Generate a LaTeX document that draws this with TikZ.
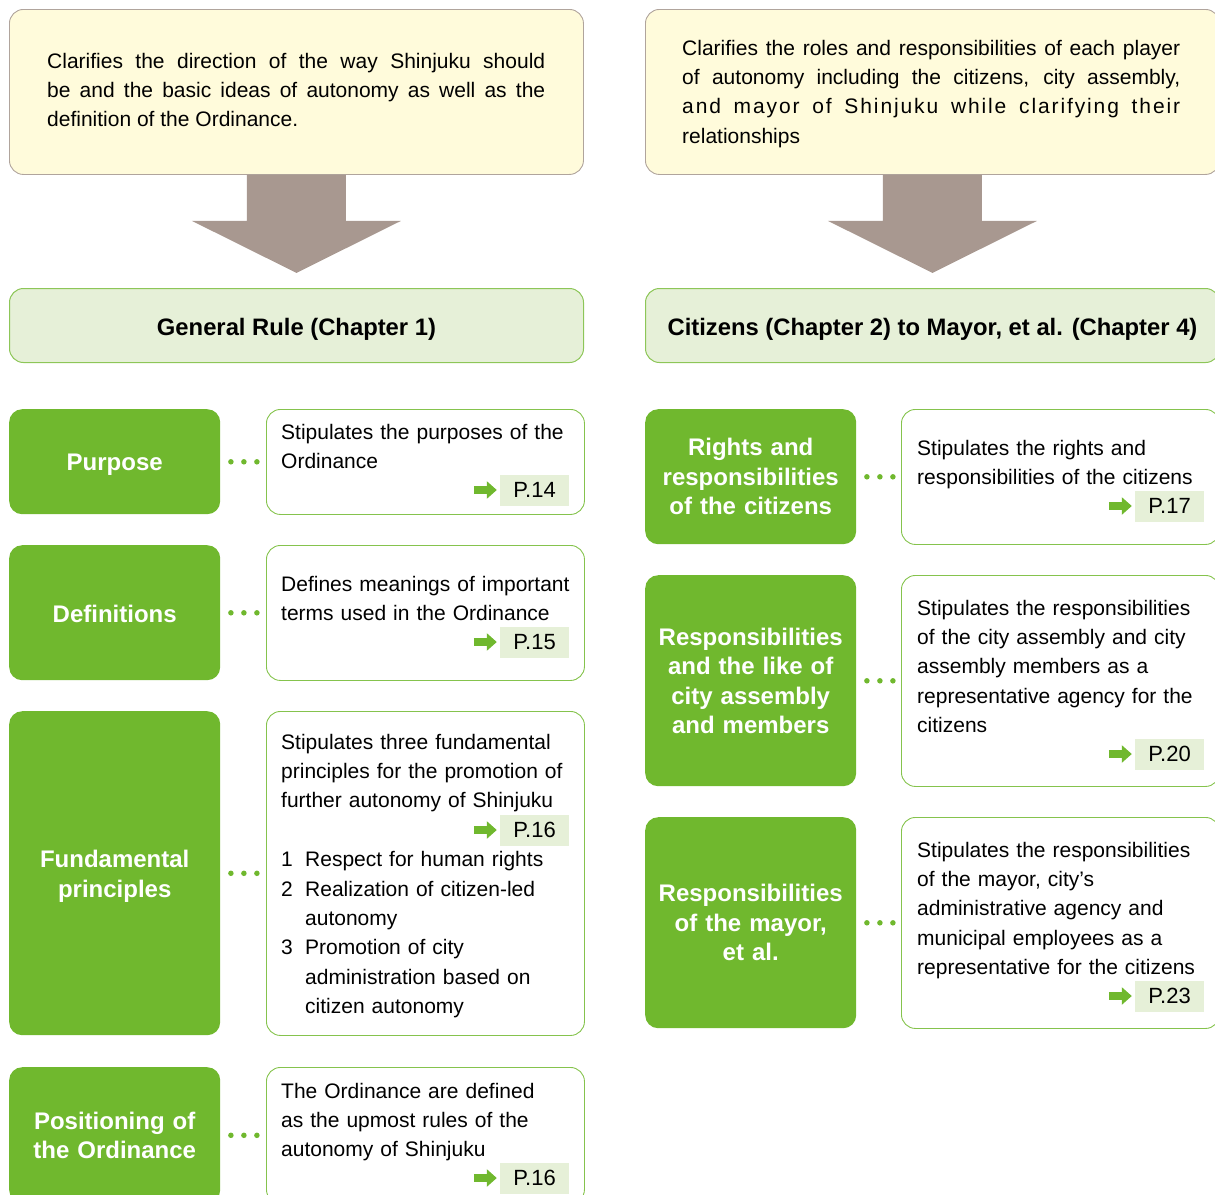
\documentclass[tikz,border=0pt]{standalone}
\usepackage{fontspec}
\setmainfont{Liberation Sans}
\usetikzlibrary{arrows.meta}
\definecolor{leaf}{RGB}{112,184,46}
\definecolor{leafpale}{RGB}{230,240,216}
\definecolor{cream}{RGB}{255,251,219}
\definecolor{creamline}{RGB}{176,164,156}
\definecolor{taupe}{RGB}{168,152,144}

\begin{document}
\begin{tikzpicture}[x=1pt,y=-1pt,
	introbox/.style={draw=creamline, fill=cream, line width=0.9pt, rounded corners=14pt, anchor=north west, minimum width=574, minimum height=165},
	introtext/.style={anchor=base west, inner sep=0, text width=498, align=justify, font=\fontsize{21}{29.4}\selectfont},
	headbox/.style={draw=leaf!80, fill=leafpale, line width=1pt, rounded corners=14pt, anchor=north west, minimum width=574, minimum height=74, text height=19pt, text depth=0pt, font=\fontsize{23.8}{29.5}\selectfont\bfseries},
	tagbox/.style={fill=leaf, text=white, rounded corners=13pt, anchor=north west, minimum width=211, text width=200, align=center, inner sep=0, font=\fontsize{24}{29.5}\selectfont\bfseries},
	descbox/.style={draw=leaf!85, line width=0.9pt, rounded corners=14pt, anchor=north west, minimum width=318},
	desctext/.style={anchor=base west, inner sep=0, text width=300, align=left, font=\fontsize{21}{29.4}\selectfont},
	pagebox/.style={fill=leafpale, minimum width=69, minimum height=31, inner sep=0, font=\fontsize{22}{24}\selectfont},
	pagearrow/.style={leaf, line width=7.5pt, -{Triangle[length=10pt,width=17pt]}},
	dotlink/.style={leaf, line width=5.5pt, line cap=round, dash pattern=on 0pt off 13pt, shorten <=10.5pt, shorten >=8pt}]
	\useasboundingbox (0,0) rectangle (1215,1194);
	\node[introbox] (introL) at (9,9) {};
	\node[introbox] (introR) at (645,9) {};
	\node[introtext] (introLtext) at (47,68) {Clarifies the direction of the way Shinjuku should\linebreak be and the basic ideas of autonomy as well as the\linebreak definition of the Ordinance.};
	\node[introtext] (introRtext) at (682,55) {Clarifies the roles and responsibilities of each player\linebreak of autonomy including the citizens, city assembly,\linebreak {\addfontfeatures{LetterSpace=9}and mayor of Shinjuku while clarifying their}\linebreak relationships};
	\node[headbox] (headL) at (9,288) {General Rule (Chapter 1)};
	\node[headbox] (headR) at (645,288) {Citizens (Chapter 2) to Mayor, et al. (Chapter 4)};
	\fill[taupe] ([xshift=-49.5pt]introL.south) -- ++(0,46) -- ++(-55,0) -- ++(104.5,52) -- ++(104.5,-52) -- ++(-55,0) -- ++(0,-46) -- cycle;
	\fill[taupe] ([xshift=-49.5pt]introR.south) -- ++(0,46) -- ++(-55,0) -- ++(104.5,52) -- ++(104.5,-52) -- ++(-55,0) -- ++(0,-46) -- cycle;
	\node[tagbox, minimum height=105] (purpose) at (9,409) {\rule{0pt}{22pt}Purpose};
	\node[tagbox, minimum height=135] (defs) at (9,545) {\rule{0pt}{20pt}Definitions};
	\node[tagbox, minimum height=324] (principles) at (9,711) {\rule{0pt}{24pt}Fundamental\\principles};
	\node[tagbox, minimum height=136] (position) at (9,1067) {Positioning of\\the Ordinance};
	\node[descbox, minimum height=105] (purposeD) at (266,409) {};
	\node[descbox, minimum height=135] (defsD) at (266,545) {};
	\node[descbox, minimum height=324] (principlesD) at (266,711) {};
	\node[descbox, minimum height=136] (positionD) at (266,1067) {};
	\node[tagbox, minimum height=135] (rights) at (645,409) {Rights and\\responsibilities\\of the citizens};
	\node[tagbox, minimum height=211] (assembly) at (645,575) {Responsibilities\\and the like of\\city assembly\\and members};
	\node[tagbox, minimum height=211] (mayor) at (645,817) {Responsibilities\\of the mayor,\\et al.};
	\node[descbox, minimum height=135] (rightsD) at (901,409) {};
	\node[descbox, minimum height=211] (assemblyD) at (901,575) {};
	\node[descbox, minimum height=211] (mayorD) at (901,817) {};
	\node[desctext] (purposeT) at (281,439) {Stipulates the purposes of the\\Ordinance};
	\node[desctext] (defsT) at (281,591) {Defines meanings of important\\terms used in the Ordinance};
	\node[desctext] (principlesT) at (281,749) {Stipulates three fundamental\\principles for the promotion of\\further autonomy of Shinjuku\\\mbox{}\\\makebox[24pt][l]{1}Respect for human rights\\\makebox[24pt][l]{2}Realization of citizen-led\\\hspace*{24pt}autonomy\\\makebox[24pt][l]{3}Promotion of city\\\hspace*{24pt}administration based on\\\hspace*{24pt}citizen autonomy};
	\node[desctext] (positionT) at (281,1098) {The Ordinance are defined\\as the upmost rules of the\\autonomy of Shinjuku};
	\node[desctext] (rightsT) at (917,455) {Stipulates the rights and\\responsibilities of the citizens};
	\node[desctext] (assemblyT) at (917,615) {Stipulates the responsibilities\\of the city assembly and city\\assembly members as a\\representative agency for the\\citizens};
	\node[desctext] (mayorT) at (917,857) {Stipulates the responsibilities\\of the mayor, city’s\\administrative agency and\\municipal employees as a\\representative for the citizens};
	\node[pagebox] (p14) at (534.5,490) {P.14};
	\node[pagebox] (p15) at (534.5,642) {P.15};
	\node[pagebox] (p16a) at (534.5,830) {P.16};
	\node[pagebox] (p16b) at (534.5,1178) {P.16};
	\node[pagebox] (p17) at (1169.5,506) {P.17};
	\node[pagebox] (p20) at (1169.5,754) {P.20};
	\node[pagebox] (p23) at (1169.5,996) {P.23};
	\foreach \p in {p14,p15,p16a,p16b,p17,p20,p23}
		\draw[pagearrow] ([xshift=-26pt]\p.west) -- ([xshift=-3pt]\p.west);
	\foreach \a/\b in {purpose/purposeD,defs/defsD,principles/principlesD,position/positionD,rights/rightsD,assembly/assemblyD,mayor/mayorD}
		\draw[dotlink] (\a) -- (\b);
\end{tikzpicture}
\end{document}
